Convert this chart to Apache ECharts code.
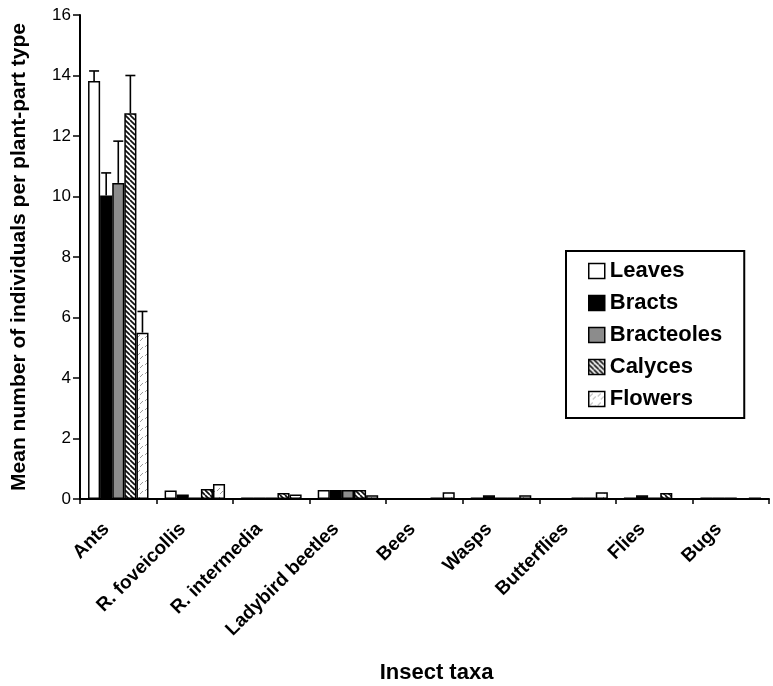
<!DOCTYPE html>
<html>
<head>
<meta charset="utf-8">
<script src="https://cdn.jsdelivr.net/npm/echarts@6/dist/echarts.min.js"></script>
<style>html,body{margin:0;padding:0;background:#fff}#c{width:773px;height:686px}</style>
</head>
<body>
<div id="c"></div>
<script>
// ---- data ----
const categories = ['Ants', 'R. foveicollis', 'R. intermedia', 'Ladybird beetles', 'Bees', 'Wasps', 'Butterflies', 'Flies', 'Bugs'];
const seriesNames = ['Leaves', 'Bracts', 'Bracteoles', 'Calyces', 'Flowers'];
const leaves     = [13.82, 0.28, 0.05, 0.30, 0.00, 0.05, 0.00, 0.05, 0.05];
const bracts     = [10.03, 0.15, 0.05, 0.30, 0.00, 0.12, 0.00, 0.12, 0.05];
const bracteoles = [10.45, 0.05, 0.05, 0.30, 0.00, 0.05, 0.05, 0.05, 0.05];
const calyces    = [12.75, 0.33, 0.20, 0.30, 0.05, 0.05, 0.05, 0.20, 0.00];
const flowers    = [5.50, 0.50, 0.15, 0.12, 0.22, 0.12, 0.22, 0.00, 0.05];
// upper ends of error bars
const leavesErrTop     = [14.15, 0, 0, 0, 0, 0, 0, 0, 0];
const bractsErrTop     = [10.78, 0, 0, 0, 0, 0, 0, 0, 0];
const bracteolesErrTop = [11.83, 0, 0, 0, 0, 0, 0, 0, 0];
const calycesErrTop    = [14.00, 0, 0, 0, 0, 0, 0, 0, 0];
const flowersErrTop    = [6.20, 0, 0, 0, 0, 0, 0, 0, 0];
const yTicks = { min: 0, max: 16, interval: 2 };

const values = [leaves, bracts, bracteoles, calyces, flowers];
const errTops = [leavesErrTop, bractsErrTop, bracteolesErrTop, calycesErrTop, flowersErrTop];

// ---- patterns ----
function calycesPattern() {
  const c = document.createElement('canvas'); c.width = 5; c.height = 5;
  const g = c.getContext('2d');
  g.fillStyle = '#fff'; g.fillRect(0, 0, 5, 5);
  g.strokeStyle = '#111'; g.lineWidth = 1.7;
  for (const x of [-5, 0, 5]) { g.beginPath(); g.moveTo(x, 0); g.lineTo(x + 5, 5); g.stroke(); }
  return c;
}
function flowersPattern() {
  const c = document.createElement('canvas'); c.width = 8; c.height = 9;
  const g = c.getContext('2d');
  g.fillStyle = '#fff'; g.fillRect(0, 0, 8, 9);
  g.strokeStyle = '#9a9a9a'; g.lineWidth = 1;
  g.beginPath(); g.moveTo(1, 5); g.lineTo(4, 2); g.stroke();
  g.beginPath(); g.moveTo(4, 8); g.lineTo(7, 5); g.stroke();
  return c;
}
const fills = [
  '#ffffff',
  '#000000',
  '#8c8c8c',
  { image: calycesPattern(), repeat: 'repeat' },
  { image: flowersPattern(), repeat: 'repeat' }
];

const FONT = '"Liberation Sans", Arial, sans-serif';
const GAP = 0.21;

const barSeries = seriesNames.map((n, i) => ({
  name: n,
  type: 'bar',
  data: values[i],
  barGap: '0%',
  barCategoryGap: (GAP * 100) + '%',
  itemStyle: { color: fills[i], borderColor: '#000', borderWidth: 1.5 },
  emphasis: { disabled: true },
  z: 2
}));

const errData = [];
errTops.forEach((arr, s) => arr.forEach((t, i) => {
  if (t > values[s][i]) errData.push([i, values[s][i], t, s]);
}));

const errSeries = {
  name: 'err',
  type: 'custom',
  data: errData,
  z: 3,
  silent: true,
  encode: { x: 0, y: 2 },
  renderItem: function (params, api) {
    const cat = api.value(0), v = api.value(1), t = api.value(2), s = api.value(3);
    const band = api.size([1, 0])[0];
    const bw = band * (1 - GAP) / 5;
    const p0 = api.coord([cat, v]);
    const p1 = api.coord([cat, t]);
    const x = p0[0] + (s - 2) * bw;
    const st = { stroke: '#000', lineWidth: 1.6 };
    return {
      type: 'group',
      children: [
        { type: 'line', shape: { x1: x, y1: p0[1], x2: x, y2: p1[1] }, style: st },
        { type: 'line', shape: { x1: x - 5, y1: p1[1], x2: x + 5, y2: p1[1] }, style: st }
      ]
    };
  }
};

const chart = echarts.init(document.getElementById('c'), null, { renderer: 'canvas' });
chart.setOption({
  animation: false,
  backgroundColor: '#fff',
  textStyle: { fontFamily: FONT },
  grid: { left: 80, right: 4, top: 15, bottom: 187, containLabel: false, outerBoundsMode: 'none' },
  legend: {
    data: seriesNames,
    orient: 'vertical',
    left: 566, top: 251,
    width: 180,
    padding: [9, 22, 8, 22],
    borderColor: '#000', borderWidth: 2,
    itemWidth: 16, itemHeight: 15, itemGap: 10,
    icon: 'rect',
    itemStyle: { borderColor: '#000', borderWidth: 1.5 },
    textStyle: { fontFamily: FONT, fontWeight: 'bold', fontSize: 22, color: '#000' },
    selectedMode: false
  },
  xAxis: {
    type: 'category',
    data: categories,
    name: 'Insect taxa',
    nameLocation: 'middle',
    nameGap: 163,
    nameTextStyle: { fontFamily: FONT, fontWeight: 'bold', fontSize: 22, color: '#000', padding: [0, 0, 0, 24] },
    axisLine: { lineStyle: { color: '#000', width: 2 } },
    axisTick: { show: true, length: 5, lineStyle: { color: '#000', width: 1.5 }, alignWithLabel: false },
    axisLabel: { rotate: 45, interval: 0, margin: 15, padding: [0, 17, 0, 0], fontFamily: FONT, fontWeight: 'bold', fontSize: 19, color: '#000' },
    splitLine: { show: false }
  },
  yAxis: {
    type: 'value',
    min: yTicks.min, max: yTicks.max, interval: yTicks.interval,
    name: 'Mean number of individuals per plant-part type',
    nameLocation: 'middle',
    nameGap: 50,
    nameTextStyle: { fontFamily: FONT, fontWeight: 'bold', fontSize: 21, color: '#000' },
    axisLine: { show: true, lineStyle: { color: '#000', width: 2 } },
    axisTick: { show: true, length: 7, lineStyle: { color: '#000', width: 1.5 } },
    axisLabel: { fontFamily: FONT, fontSize: 17, color: '#000', margin: 9 },
    splitLine: { show: false }
  },
  series: barSeries.concat([errSeries])
});
</script>
</body>
</html>
